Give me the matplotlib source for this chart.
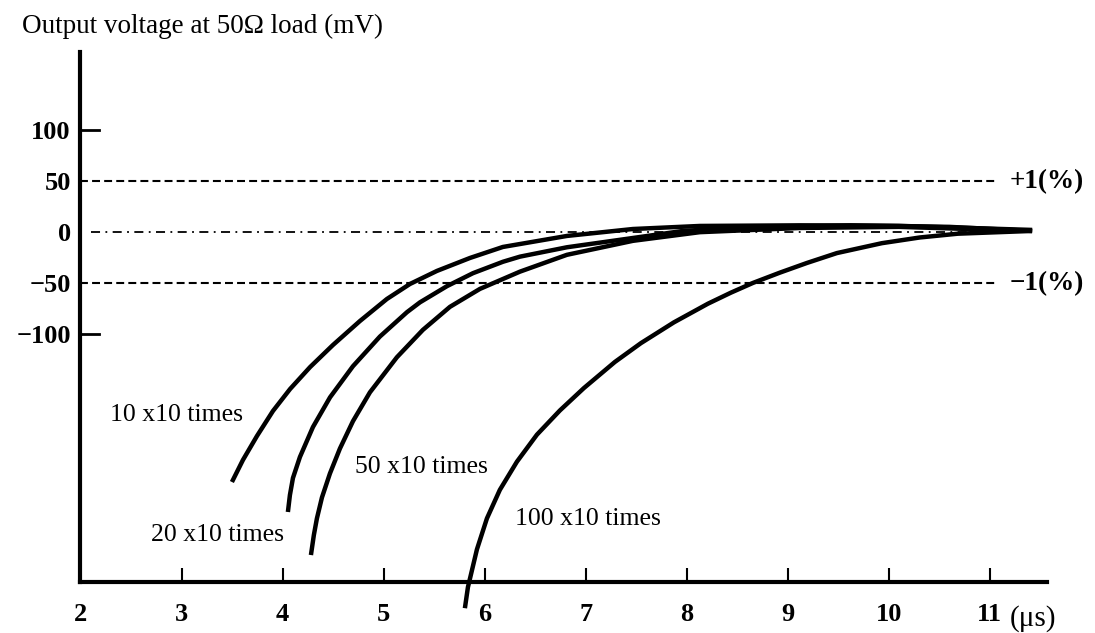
import matplotlib
matplotlib.use("Agg")
import matplotlib.pyplot as plt

# time (us) / output voltage (mV)
t_10 = [3.499, 3.608, 3.747, 3.905, 4.075, 4.273, 4.499, 4.766, 5.033, 5.261, 5.528, 5.855, 6.181, 6.815, 7.468, 8.131, 9.12, 10.1, 11.42]
v_10 = [-244.6, -223, -199.5, -175, -153.4, -131.9, -110.3, -86.8, -65.2, -50.5, -37.7, -25, -14.2, -3.4, 3.4, 6.4, 7.0, 6.5, 2.5]

t_20 = [4.053, 4.073, 4.103, 4.172, 4.301, 4.470, 4.697, 4.964, 5.232, 5.360, 5.628, 5.885, 6.182, 6.350, 6.815, 7.468, 7.962, 8.625, 9.62, 10.6, 11.42]
v_20 = [-274, -257.4, -240.7, -220.1, -190.7, -161.6, -131.1, -102, -78.1, -68.5, -52.6, -39.9, -28.7, -23.7, -14.5, -5.4, 1.5, 5.4, 7.0, 5.5, 1.5]

t_50 = [4.281, 4.310, 4.340, 4.390, 4.469, 4.568, 4.697, 4.865, 5.132, 5.389, 5.657, 5.954, 6.350, 6.815, 7.468, 8.131, 9.12, 10.1, 11.42]
v_50 = [-316.2, -296.6, -280.4, -259.8, -236.3, -211.8, -185, -156.7, -122.3, -95.5, -72.9, -55.3, -38.4, -21.9, -8.2, 0.3, 4.4, 5.5, 1.5]

t_100 = [5.805, 5.835, 5.924, 6.023, 6.151, 6.320, 6.518, 6.745, 6.983, 7.290, 7.547, 7.874, 8.211, 8.438, 8.655, 8.922, 9.190, 9.487, 9.932, 10.308, 10.684, 11.417]
v_100 = [-368.3, -347.7, -310.7, -280.3, -252.3, -224.7, -198.2, -174.5, -152.5, -126.9, -108.5, -88.1, -69.8, -59, -49.5, -39.4, -29.9, -20.2, -10.5, -4.9, -1.2, 1.5]

series = [(t_10, v_10), (t_20, v_20), (t_50, v_50), (t_100, v_100)]
curve_labels = ["10 x10 times", "20 x10 times", "50 x10 times", "100 x10 times"]
label_pos = [(2.29, -179), (2.7, -297), (4.72, -230), (6.3, -281)]

x_ticks = [2, 3, 4, 5, 6, 7, 8, 9, 10, 11]
y_ticks = [100, 50, 0, -50, -100]
y_tick_labels = ["100", "50", "0", "\u221250", "\u2212100"]
limit_levels = [50, -50]
limit_labels = ["+1(%)", "\u22121(%)"]

plt.rcParams["font.family"] = ["Liberation Serif", "DejaVu Serif"]

fig = plt.figure(figsize=(10.95, 6.33), dpi=100)
ax = fig.add_axes([0.0735, 0.0806, 0.8825, 0.8374])
ax.set_xlim(2, 11.565)
ax.set_ylim(-342.6, 177)

# +-1% band and zero line
for lv in limit_levels:
    ax.plot([2, 11.08], [lv, lv], color="black", lw=1.5, ls=(0, (3.8, 2.0)))
ax.plot([2.1, 11.1], [0, 0], color="black", lw=1.3, ls=(0, (5, 3, 1, 3)))

for (t, v) in series:
    ax.plot(t, v, color="black", lw=3.2, solid_capstyle="butt", solid_joinstyle="round",
            clip_on=False, zorder=3)

for txt, (x, y) in zip(curve_labels, label_pos):
    ax.text(x, y, txt, fontsize=18.5, ha="left", va="center")

for txt, lv in zip(limit_labels, limit_levels):
    ax.text(11.2, lv, txt, fontsize=19.5, fontweight="bold", ha="left", va="center", clip_on=False)

ax.text(11.2, -378, "(\u03bcs)", fontsize=21, ha="left", va="center", clip_on=False)

for side in ["top", "right"]:
    ax.spines[side].set_visible(False)
for side in ["left", "bottom"]:
    ax.spines[side].set_linewidth(3)

ax.set_xticks(x_ticks)
ax.set_xticklabels([str(x) for x in x_ticks], fontsize=19, fontweight="bold")
ax.tick_params(axis="x", direction="in", length=10, width=1.5, pad=15)

ax.set_yticks(y_ticks)
ax.set_yticklabels(y_tick_labels, fontsize=19, fontweight="bold")
ax.tick_params(axis="y", length=0, pad=7)
# short inward marks only at +-100
for yv in [100, -100]:
    ax.axhline(yv, xmin=0, xmax=0.019, color="black", lw=2)

fig.text(0.02, 0.958, "Output voltage at 50\u03a9 load (mV)", fontsize=19.5, ha="left", va="center")

fig.savefig("out.png", dpi=100)
